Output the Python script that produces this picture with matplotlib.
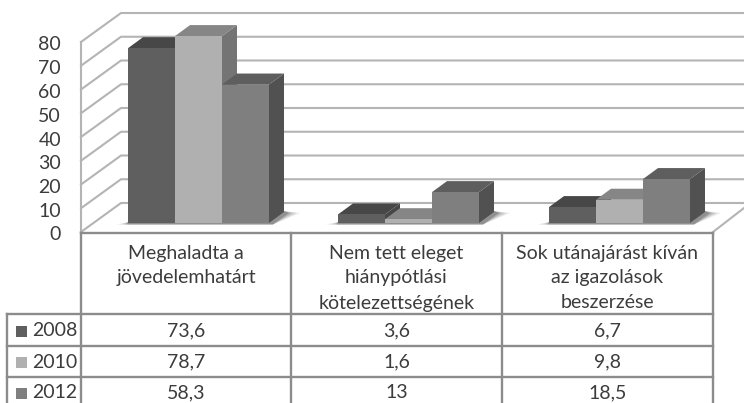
import matplotlib
matplotlib.use('Agg')
import matplotlib.pyplot as plt
from matplotlib.patches import Polygon, Rectangle

plt.rcParams['font.family'] = ['Lato', 'DejaVu Sans']

categories = ['Meghaladta a\njövedelemhatárt',
              'Nem tett eleget\nhiánypótlási\nkötelezettségének',
              'Sok utánajárást kíván\naz igazolások\nbeszerzése']
years = ['2008', '2010', '2012']
v2008 = [73.6, 3.6, 6.7]
v2010 = [78.7, 1.6, 9.8]
v2012 = [58.3, 13, 18.5]
yticks = [0, 10, 20, 30, 40, 50, 60, 70, 80]

# front, top, side
shades = {'2008': ('#5f5f5f', '#474747', '#474747'),
          '2010': ('#b0b0b0', '#868686', '#747474'),
          '2012': ('#7f7f7f', '#5e5e5e', '#515151')}
grid_c = '#b4b4b4'
table_c = '#8c8c8c'
text_c = '#3c3c3c'
fs = 14
px = 2.375  # pixels per unit on the value axis

fig = plt.figure(figsize=(7.44, 4.03), dpi=100)

# value axes: x in pixels, y in chart units, 0 on the front edge of the floor
ax = fig.add_axes([0, 0, 1, 1])
ax.set_xlim(0, 744)
ax.set_ylim((232 - 403) / px, 232 / px)
ax.axis('off')

# pixel axes for the table
tb = fig.add_axes([0, 0, 1, 1])
tb.set_xlim(0, 744)
tb.set_ylim(403, 0)
tb.axis('off')
tb.patch.set_alpha(0)

dx_wall, dy_wall = 40, 29 / px
for t in yticks:
    ax.plot([81, 81 + dx_wall, 744], [t, t + dy_wall, t + dy_wall], color=grid_c, lw=1.5, zorder=1)
    ax.text(61, t - 3 / px, str(t), ha='right', va='center', fontsize=fs, color=text_c)
ax.plot([81, 81], [0, 80], color=grid_c, lw=1.5, zorder=1)
ax.plot([713, 744], [0, 24 / px], color=grid_c, lw=1.5, zorder=1)

base = 9 / px
dx, dy = 15, 11 / px
w = 47
starts = [128, 338, 549]
series = {'2008': v2008, '2010': v2010, '2012': v2012}

# floor shadows, stacked to look soft
for x0 in starts:
    for grow, a in [(12, 0.10), (8, 0.14), (4, 0.18), (1, 0.25)]:
        ax.add_patch(Polygon([(x0 - grow, base - 1.5 / px), (x0 + 3 * w + 4, base - 1.5 / px),
                              (x0 + 3 * w + dx + grow + 4, base + dy - 1 / px),
                              (x0 + 3 * w + dx, base + dy + 1 / px), (x0, base + 1 / px)],
                             closed=True, fc='#303030', ec='none', alpha=a, zorder=2))

z = 3
for g, x0 in enumerate(starts):
    for i, yr in enumerate(years):
        v = series[yr][g]
        x = x0 + i * w
        front, top, side = shades[yr]
        ax.add_patch(Polygon([(x + w, base), (x + w + dx, base + dy), (x + w + dx, base + v + dy), (x + w, base + v)],
                             closed=True, fc=side, ec='none', zorder=z))
        ax.add_patch(Polygon([(x, base + v), (x + dx, base + v + dy), (x + w + dx, base + v + dy), (x + w, base + v)],
                             closed=True, fc=top, ec='none', zorder=z))
        ax.add_patch(Rectangle((x, base), w, v, fc=front, ec='none', zorder=z))
        z += 1

# table
col_x = [81, 291, 502, 713]
row_y = [233, 314, 345.5, 377]
row_mid = [331, 362, 393]
for x in col_x:
    tb.plot([x, x], [233, 403], color=table_c, lw=1.7)
tb.plot([7, 7], [314, 403], color=table_c, lw=1.7)
tb.plot([81, 713], [233, 233], color=table_c, lw=1.7)
for y in row_y[1:]:
    tb.plot([7, 713], [y, y], color=table_c, lw=1.7)

line_y = [253, 278, 303]
for c, cat in enumerate(categories):
    xc = (col_x[c] + col_x[c + 1]) / 2
    for j, part in enumerate(cat.split('\n')):
        tb.text(xc, line_y[j], part, ha='center', va='center', fontsize=fs, color=text_c)

for r, yr in enumerate(years):
    tb.add_patch(Rectangle((16, row_mid[r] - 5.5), 11, 11, fc=shades[yr][0], ec='none'))
    tb.text(32, row_mid[r], yr, ha='left', va='center', fontsize=fs, color=text_c)
    for c in range(3):
        xc = (col_x[c] + col_x[c + 1]) / 2
        tb.text(xc, row_mid[r], str(series[yr][c]).replace('.', ','), ha='center', va='center',
                fontsize=fs, color=text_c)

fig.savefig('out.png', dpi=100)
